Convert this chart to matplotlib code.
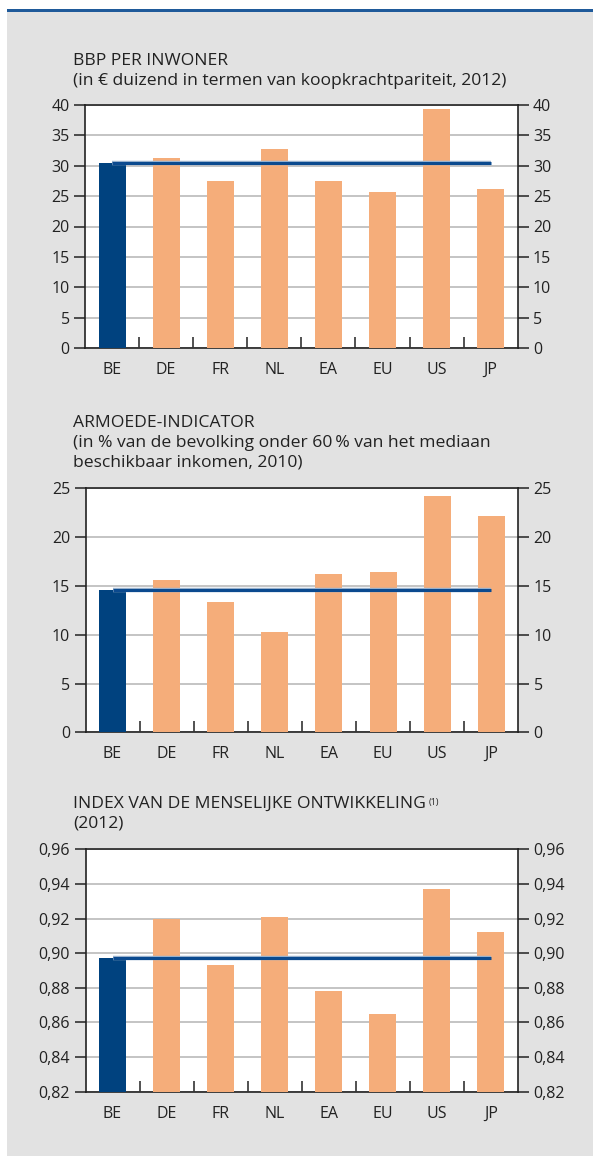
import numpy as np
import matplotlib
matplotlib.use("Agg")
import matplotlib.pyplot as plt
from matplotlib.patches import Rectangle
from matplotlib.ticker import FuncFormatter, FixedLocator

plt.rcParams['font.family'] = ['Open Sans', 'DejaVu Sans']

# data
countries = ["BE", "DE", "FR", "NL", "EA", "EU", "US", "JP"]
gdp = [30.4, 31.2, 27.4, 32.7, 27.4, 25.6, 39.3, 26.1]
poverty = [14.6, 15.6, 13.3, 10.3, 16.2, 16.4, 24.2, 22.2]
hdi = [0.897, 0.920, 0.893, 0.921, 0.878, 0.865, 0.937, 0.912]

titles = [
    "BBP PER INWONER\n(in € duizend in termen van koopkrachtpariteit, 2012)",
    "ARMOEDE-INDICATOR\n(in % van de bevolking onder 60\u2009% van het mediaan\nbeschikbaar inkomen, 2010)",
    "INDEX VAN DE MENSELIJKE ONTWIKKELING\n(2012)",
]
ylims = [(0, 40), (0, 25), (0.82, 0.96)]
yticks = [np.arange(0, 41, 5), np.arange(0, 26, 5), np.arange(0.82, 0.961, 0.02)]

BLUE = "#00427f"
ORANGE = "#f5ad7a"
GRID = "#b4b4b4"
BG = "#e2e2e2"
TXT = "#222222"
FS = 11.5
TFS = 12.6

W, H = 593, 1156
fig = plt.figure(figsize=(W / 100, H / 100), dpi=100)
fig.patch.set_facecolor("white")

# grey panel + blue top rule
fig.add_artist(Rectangle((7 / W, 0), 1 - 7 / W, 1 - 12 / H, transform=fig.transFigure,
                         facecolor=BG, edgecolor="none", zorder=-10))
fig.add_artist(Rectangle((7 / W, 1 - 12 / H), 1 - 7 / W, 2.5 / H, transform=fig.transFigure,
                         facecolor="#1f5a9a", edgecolor="none", zorder=-9))

# axes boxes in pixels: (left, top, right, bottom)
boxes = [(85, 104.7, 517.7, 348.3), (85.5, 488.3, 518.3, 732.3), (85.5, 849.3, 518, 1091.7)]
title_y = [53, 415, 796]

datasets = [gdp, poverty, hdi]
x = np.arange(len(countries))

for i, (vals, box) in enumerate(zip(datasets, boxes)):
    l, t, r, b = box
    ax = fig.add_axes([l / W, 1 - b / H, (r - l) / W, (b - t) / H])
    ax.set_facecolor("white")
    colors = [BLUE] + [ORANGE] * (len(countries) - 1)
    ax.bar(x, vals, width=0.5, color=colors, zorder=3)
    # Belgian reference line
    ax.plot([0, len(countries) - 1], [vals[0], vals[0]], color="#9db4cf", lw=3.2, zorder=4,
            solid_capstyle="butt")
    ax.plot([0, len(countries) - 1], [vals[0], vals[0]], color="#0b4a8f", lw=2.2, zorder=5,
            solid_capstyle="butt")
    ax.set_xlim(-0.5, len(countries) - 0.5)
    ax.set_ylim(*ylims[i])
    ax.set_yticks(yticks[i])
    ax.yaxis.grid(True, color=GRID, lw=1.1, zorder=1)
    ax.set_axisbelow(True)
    ax.set_xticks(x)
    ax.set_xticklabels(countries)
    ax.xaxis.set_minor_locator(FixedLocator(np.arange(0.5, len(countries) - 1, 1)))
    ax.tick_params(axis="x", which="major", length=0, pad=10, labelsize=FS, labelcolor=TXT)
    ax.tick_params(axis="x", which="minor", direction="in", length=8, width=1.1, color="#222222")
    ax.tick_params(axis="y", which="major", direction="out", length=8, width=1.1,
                   left=True, right=True, labelleft=True, labelright=True,
                   labelsize=FS, labelcolor=TXT, pad=3, color="#222222")
    if i == 2:
        ax.yaxis.set_major_formatter(FuncFormatter(lambda v, p: f"{v:.2f}".replace(".", ",")))
    else:
        ax.yaxis.set_major_formatter(FuncFormatter(lambda v, p: f"{v:.0f}"))
    for s in ax.spines.values():
        s.set_color("#222222")
        s.set_linewidth(1.2)

    fig.text(73 / W, 1 - title_y[i] / H, titles[i], ha="left", va="top",
             fontsize=TFS, color=TXT, linespacing=1.32)
    if i == 2:
        first = titles[i].split("\n")[0]
        tmp = fig.text(73 / W, 1 - title_y[i] / H, first, ha="left", va="top",
                       fontsize=TFS, color="none")
        fig.canvas.draw()
        bb = tmp.get_window_extent()
        tmp.remove()
        fig.text((bb.x1 + 3) / W, (bb.y1 - 2) / H, "(1)", ha="left", va="top",
                 fontsize=6.5, color=TXT)

fig.savefig("out.png", dpi=100, facecolor=fig.get_facecolor())
